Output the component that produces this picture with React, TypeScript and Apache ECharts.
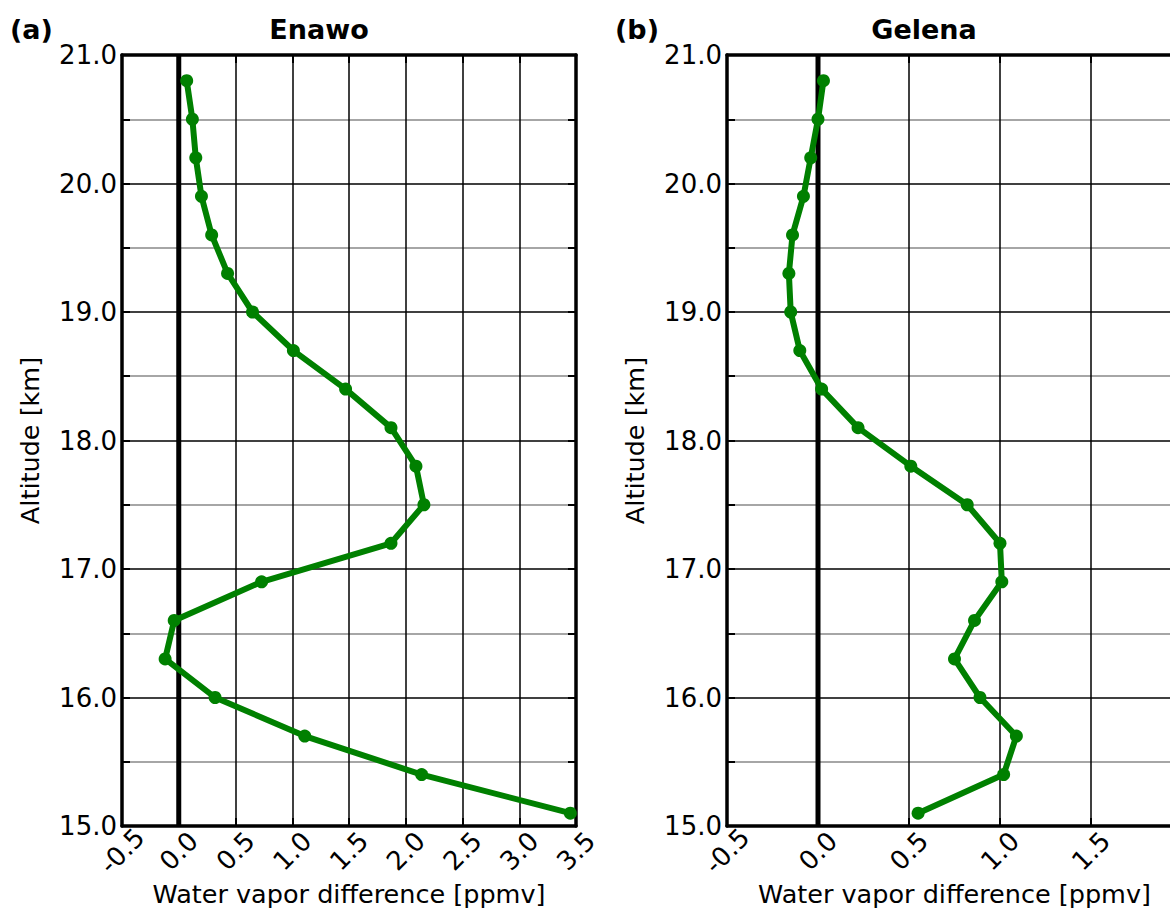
import React, { useEffect, useRef } from "react";
import * as echarts from "echarts";

const altitudes = [20.8, 20.5, 20.2, 19.9, 19.6, 19.3, 19.0, 18.7, 18.4, 18.1, 17.8, 17.5, 17.2, 16.9, 16.6, 16.3, 16.0, 15.7, 15.4, 15.1];
const enawoDiff = [0.07, 0.12, 0.15, 0.2, 0.29, 0.43, 0.65, 1.01, 1.47, 1.87, 2.09, 2.16, 1.87, 0.73, -0.04, -0.12, 0.32, 1.11, 2.14, 3.45];
const gelenaDiff = [0.03, 0.0, -0.04, -0.08, -0.14, -0.16, -0.15, -0.1, 0.02, 0.22, 0.51, 0.82, 1.0, 1.01, 0.86, 0.75, 0.89, 1.09, 1.02, 0.55];
const panelTitles = ["Enawo", "Gelena"];
const panelLetters = ["(a)", "(b)"];
const xRanges = [[-0.5, 3.5], [-0.5, 2.0]];
const yRange = [15, 21];
const xName = "Water vapor difference [ppmv]";
const yName = "Altitude [km]";

const FONT = "DejaVu Sans";
const GREEN = "#008000";
const FS = 26;

export default function App() {
  const ref = useRef<HTMLDivElement>(null);
  useEffect(() => {
    if (!ref.current) return;
    const chart = echarts.init(ref.current, undefined, { renderer: "svg" });
    const grids = [
      { left: 122, top: 55, width: 454, height: 771, outerBoundsMode: "none", containLabel: false },
      { left: 727, top: 55, width: 455, height: 771, outerBoundsMode: "none", containLabel: false },
    ];
    const axisLine = { show: true, onZero: false, lineStyle: { color: "#000", width: 3.5 } };
    const tick = { show: true, inside: true, length: 8, lineStyle: { color: "#000", width: 2 } };
    const minorTick = { show: true, splitNumber: 2, length: 8, lineStyle: { color: "#000", width: 2 } };
    const xAxes: any[] = [];
    const yAxes: any[] = [];
    const series: any[] = [];
    [0, 1].forEach((g) => {
      xAxes.push({
        type: "value",
        gridIndex: g,
        position: "bottom",
        min: xRanges[g][0],
        max: xRanges[g][1],
        interval: 0.5,
        axisLine,
        axisTick: tick,
        axisLabel: {
          show: true,
          rotate: 45,
          align: "center",
          verticalAlign: "middle",
          margin: 25,
          fontFamily: FONT,
          fontSize: FS,
          color: "#000",
          showMaxLabel: g === 0,
          formatter: (v: number) => v.toFixed(1),
        },
        splitLine: { show: true, lineStyle: { color: "#000", width: 1.5 } },
        name: xName,
        nameLocation: "middle",
        nameGap: 55,
        nameMoveOverlap: false,
        nameTextStyle: { fontFamily: FONT, fontSize: 25.5, color: "#000" },
      });
      xAxes.push({
        type: "value",
        gridIndex: g,
        position: "top",
        min: xRanges[g][0],
        max: xRanges[g][1],
        interval: 0.5,
        axisLine,
        axisTick: tick,
        axisLabel: { show: false },
        splitLine: { show: false },
      });
      yAxes.push({
        type: "value",
        gridIndex: g,
        position: "left",
        min: yRange[0],
        max: yRange[1],
        interval: 1,
        axisLine,
        axisTick: tick,
        minorTick,
        axisLabel: {
          show: true,
          margin: 5,
          fontFamily: FONT,
          fontSize: FS,
          color: "#000",
          formatter: (v: number) => v.toFixed(1),
        },
        splitLine: { show: true, lineStyle: { color: "#000", width: 1.5 } },
        minorSplitLine: { show: true, lineStyle: { color: "#888", width: 1.5 } },
        name: yName,
        nameLocation: "middle",
        nameRotate: 90,
        nameGap: 79,
        nameMoveOverlap: false,
        nameTextStyle: { fontFamily: FONT, fontSize: 25.5, color: "#000" },
      });
      yAxes.push({
        type: "value",
        gridIndex: g,
        position: "right",
        min: yRange[0],
        max: yRange[1],
        interval: 1,
        axisLine,
        axisTick: tick,
        minorTick,
        axisLabel: { show: false },
        splitLine: { show: false },
      });
      series.push({
        type: "line",
        xAxisIndex: g * 2,
        yAxisIndex: g * 2,
        data: [[0, yRange[0]], [0, yRange[1]]],
        showSymbol: false,
        symbol: "none",
        silent: true,
        lineStyle: { color: "#000", width: 5 },
        z: 2,
      });
      const vals = g === 0 ? enawoDiff : gelenaDiff;
      series.push({
        type: "line",
        name: panelTitles[g],
        xAxisIndex: g * 2,
        yAxisIndex: g * 2,
        data: altitudes.map((a, i) => [vals[i], a]),
        symbol: "circle",
        symbolSize: 13,
        itemStyle: { color: GREEN },
        lineStyle: { color: GREEN, width: 6 },
        z: 3,
      });
    });
    const centers = [319, 924];
    const letterX = [10, 615];
    const graphic: any[] = [];
    [0, 1].forEach((g) => {
      graphic.push({
        type: "text",
        x: centers[g],
        y: 29,
        style: { text: panelTitles[g], fontFamily: FONT, fontSize: 27, fontWeight: "bold", fill: "#000", align: "center", verticalAlign: "middle" },
      });
      graphic.push({
        type: "text",
        x: letterX[g],
        y: 29,
        style: { text: panelLetters[g], fontFamily: FONT, fontSize: 27, fontWeight: "bold", fill: "#000", align: "left", verticalAlign: "middle" },
      });
    });
    chart.setOption({
      animation: false,
      backgroundColor: "#fff",
      grid: grids,
      xAxis: xAxes,
      yAxis: yAxes,
      series,
      graphic,
    });
    return () => chart.dispose();
  }, []);
  return <div ref={ref} style={{ position: "fixed", left: 0, top: 0, width: 1200, height: 909 }} />;
}
